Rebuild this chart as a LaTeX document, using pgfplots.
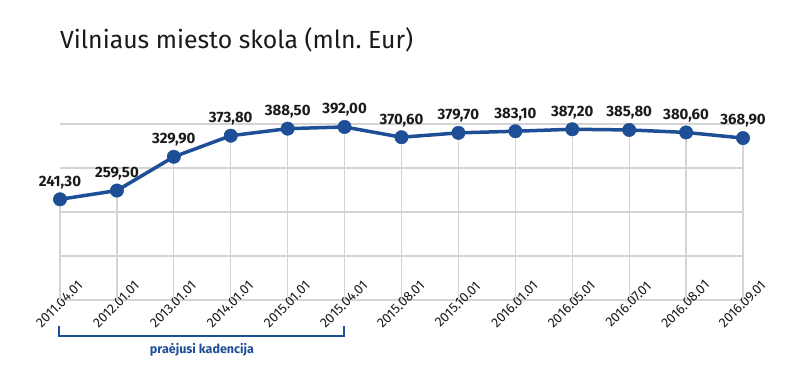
\documentclass[border=0pt]{standalone}
\usepackage{pgfplots}
\usepackage{pgfplotstable}
\pgfplotsset{compat=1.18}
\usepackage{fontspec}
\setmainfont{Fira Sans}
\definecolor{vblue}{HTML}{1E4F96}
\definecolor{gridc}{HTML}{D4D4D4}
\definecolor{txt}{HTML}{1A1A1A}
\pgfplotstableread{
x y
0 241.30
1 259.50
2 329.90
3 373.80
4 388.50
5 392.00
6 370.60
7 379.70
8 383.10
9 387.20
10 385.80
11 380.60
12 368.90
}\debt
\begin{document}
\begin{tikzpicture}[x=1pt,y=1pt]
\path[use as bounding box] (0,0) rectangle (800,385);
\node[anchor=base west, inner sep=0, text=txt, font=\fontsize{24.8}{30}\selectfont] at (60,336.7) {Vilniaus miesto skola (mln.\ Eur)};
\begin{axis}[at={(60pt,85pt)}, anchor=south west, scale only axis,
  width=683pt, height=176pt,
  xmin=0, xmax=12, ymin=31.5, ymax=398.2,
  axis line style={draw=none},
  ytick={31.5,123.2,214.85,306.5,398.2}, yticklabels={},
  ymajorgrids, grid style={gridc, line width=1.3pt},
  major tick length=0,
  xtick={0,...,12},
  xticklabels={2011.04.01,2012.01.01,2013.01.01,2014.01.01,2015.01.01,2015.04.01,2015.08.01,2015.10.01,2016.01.01,2016.05.01,2016.07.01,2016.08.01,2016.09.01},
  xticklabel style={rotate=45, anchor=center, xshift=-3.5pt, yshift=-2.5pt, inner sep=0pt, text=txt, font=\fontsize{13.5}{13.5}\selectfont},
  clip=false,
]
\addplot[draw=none, mark=none, forget plot,
  error bars/.cd, y dir=minus, y explicit,
  error bar style={gridc, line width=1.3pt}, error mark=none]
  table[x=x, y=y, y error expr=\thisrow{y}-31.5] {\debt};
\addplot[vblue, line width=3.5pt, mark=*, mark size=6.7pt,
  mark options={fill=vblue, draw=vblue, line width=0.5pt},
  nodes near coords={\pgfmathprintnumber[fixed,fixed zerofill,precision=2,use comma,assume math mode=true]{\pgfplotspointmeta}},
  every node near coord/.append style={anchor=center, yshift=17pt, text=txt, font=\bfseries\fontsize{15}{15}\selectfont}]
  table[x=x, y=y] {\debt};
\end{axis}
\draw[vblue, line width=2.5pt] (59,59) -- (59,49) -- (344,49) -- (344,59);
\node[text=vblue, font=\bfseries\fontsize{12.5}{14}\selectfont] at (202,35) {praėjusi kadencija};
\end{tikzpicture}
\end{document}
